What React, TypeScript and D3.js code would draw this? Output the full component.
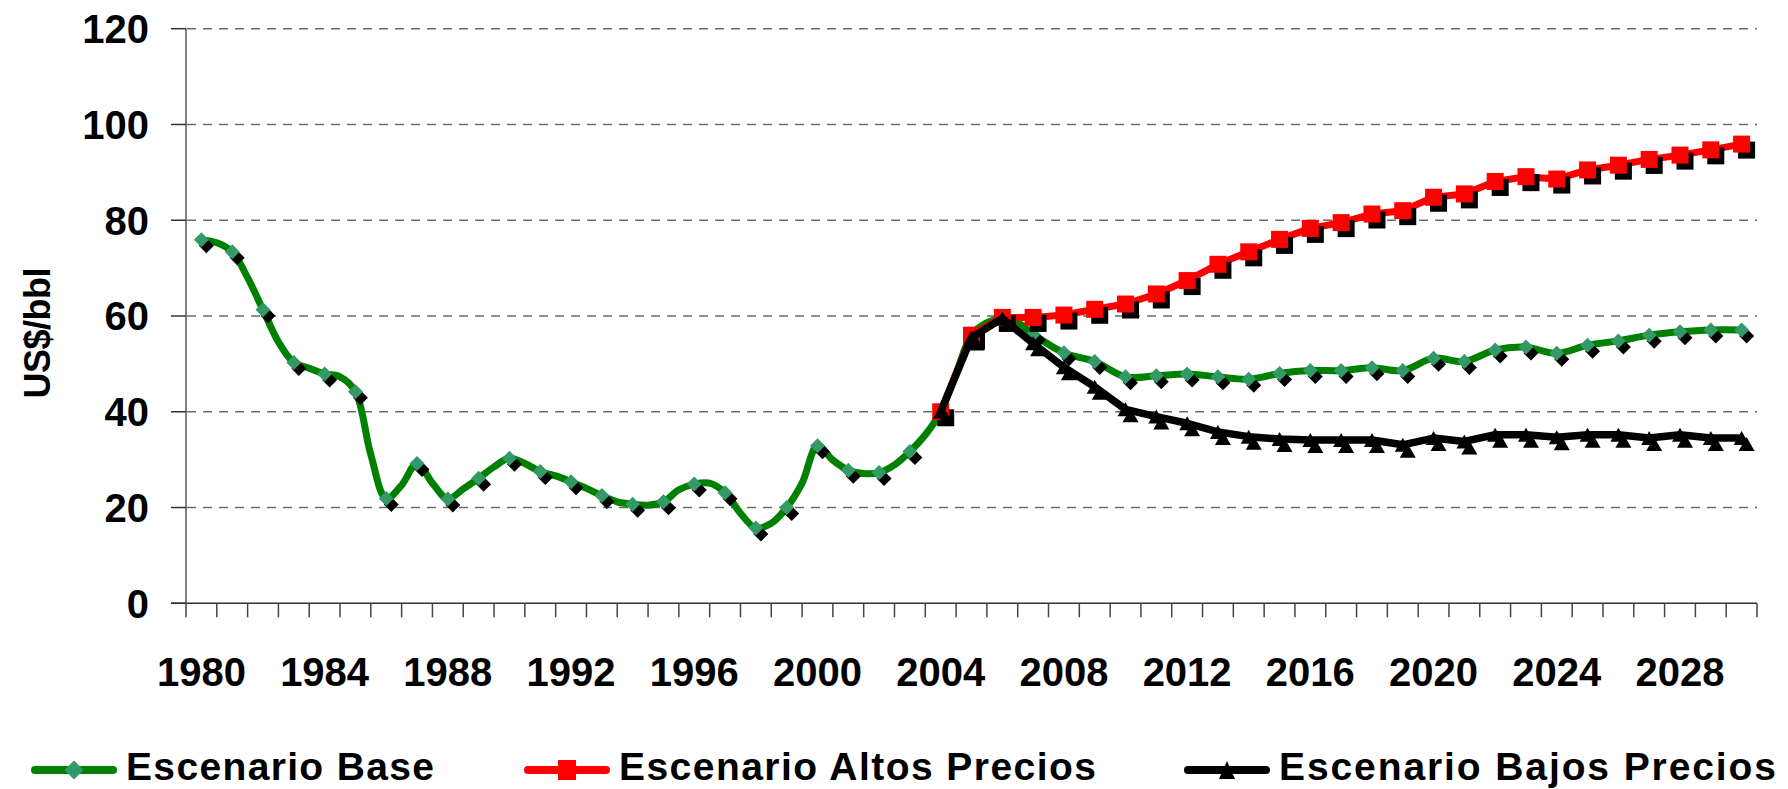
import React, { useEffect } from "react";
import * as d3 from "d3";

// ---------- data ----------
const years = [
  1980, 1981, 1982, 1983, 1984, 1985, 1986, 1987, 1988, 1989,
  1990, 1991, 1992, 1993, 1994, 1995, 1996, 1997, 1998, 1999,
  2000, 2001, 2002, 2003, 2004, 2005, 2006, 2007, 2008, 2009,
  2010, 2011, 2012, 2013, 2014, 2015, 2016, 2017, 2018, 2019,
  2020, 2021, 2022, 2023, 2024, 2025, 2026, 2027, 2028, 2029, 2030,
];

// Escenario Base (annual values, markers)
const baseValues = [
  75.9, 73.4, 61.3, 50.3, 47.9, 44.2, 21.9, 29.2, 21.8, 26.1,
  30.3, 27.5, 25.4, 22.5, 20.7, 21.2, 24.9, 23.1, 15.7, 20.0,
  32.9, 27.8, 27.3, 31.7, 40.0, 56.0, 59.5, 56.2, 52.3, 50.5,
  47.3, 47.5, 47.9, 47.3, 46.8, 48.0, 48.6, 48.6, 49.2, 48.6,
  51.2, 50.5, 52.9, 53.5, 52.2, 53.9, 54.8, 56.0, 56.7, 57.1, 57.1,
];

// Escenario Base mid-year values (line only, historical period)
const baseMidYears = [
  1980.5, 1981.5, 1982.5, 1983.5, 1984.5, 1985.5, 1986.5, 1987.5, 1988.5,
  1989.5, 1990.5, 1991.5, 1992.5, 1993.5, 1994.5, 1995.5, 1996.5, 1997.5,
  1998.5, 1999.5, 2000.5, 2001.5, 2002.5, 2003.5, 2004.5, 2005.5, 2006.5,
];
const baseMidValues = [
  75.3, 68.0, 54.6, 49.1, 47.3, 31.0, 24.7, 25.1, 23.9,
  28.5, 29.2, 26.6, 24.0, 21.2, 20.5, 23.7, 25.1, 18.8,
  16.7, 25.1, 29.9, 27.1, 28.9, 35.2, 48.0, 58.6, 58.6,
];

const scenarioYears = [
  2004, 2005, 2006, 2007, 2008, 2009, 2010, 2011, 2012, 2013,
  2014, 2015, 2016, 2017, 2018, 2019, 2020, 2021, 2022, 2023,
  2024, 2025, 2026, 2027, 2028, 2029, 2030,
];
// Escenario Altos Precios
const highValues = [
  40.0, 56.0, 59.7, 59.7, 60.2, 61.4, 62.5, 64.6, 67.4, 70.8,
  73.4, 76.0, 78.3, 79.5, 81.3, 82.0, 84.8, 85.5, 88.1, 89.1,
  88.6, 90.5, 91.5, 92.7, 93.6, 94.7, 95.9,
];
// Escenario Bajos Precios
const lowValues = [
  40.0, 55.5, 59.5, 54.3, 49.3, 45.2, 40.5, 39.0, 37.6, 35.8,
  34.8, 34.3, 34.1, 34.1, 34.1, 33.1, 34.5, 33.8, 35.2, 35.2,
  34.7, 35.2, 35.2, 34.5, 35.2, 34.5, 34.5,
];

const yTicks = [0, 20, 40, 60, 80, 100, 120];
const xTickLabels = [1980, 1984, 1988, 1992, 1996, 2000, 2004, 2008, 2012, 2016, 2020, 2024, 2028];

const legendItems = [
  { label: "Escenario Base", key: "base" },
  { label: "Escenario Altos Precios", key: "high" },
  { label: "Escenario Bajos Precios", key: "low" },
];

// ---------- layout ----------
const W = 1788;
const H = 789;
const FONT = "'Liberation Sans', Arial, Helvetica, sans-serif";
const GREEN = "#008000";
const DIAMOND = "#339966";
const RED = "#FF0000";
const BLACK = "#000000";
const SH_DX = 5;
const SH_DY = 6;

export default function App() {
  useEffect(() => {
    document.body.style.margin = "0";
  }, []);

  const x = d3.scaleLinear().domain([years[0] - 0.5, years[years.length - 1] + 0.5]).range([186, 1757]);
  const y = d3.scaleLinear().domain([0, 120]).range([603.3, 28.7]);

  const basePts: [number, number][] = [];
  years.forEach((yr, i) => basePts.push([yr, baseValues[i]]));
  baseMidYears.forEach((yr, i) => basePts.push([yr, baseMidValues[i]]));
  basePts.sort((a, b) => a[0] - b[0]);

  const smooth = d3
    .line<[number, number]>()
    .x((d) => x(d[0]))
    .y((d) => y(d[1]))
    .curve(d3.curveCatmullRom.alpha(0.5));
  const straight = d3
    .line<[number, number]>()
    .x((d) => x(d[0]))
    .y((d) => y(d[1]));

  const highPts: [number, number][] = scenarioYears.map((yr, i) => [yr, highValues[i]]);
  const lowPts: [number, number][] = scenarioYears.map((yr, i) => [yr, lowValues[i]]);
  const baseMarkers: [number, number][] = years.map((yr, i) => [yr, baseValues[i]]);

  const diamondPath = (cx: number, cy: number, r: number) =>
    `M${cx},${cy - r}L${cx + r},${cy}L${cx},${cy + r}L${cx - r},${cy}Z`;
  const trianglePath = (cx: number, cy: number, w: number, h: number) =>
    `M${cx},${cy - h / 2}L${cx + w / 2},${cy + h / 2}L${cx - w / 2},${cy + h / 2}Z`;

  const tickBoundaries = [...years.map((yr) => yr - 0.5), years[years.length - 1] + 0.5];

  const legendX = [31, 524, 1184];
  const legendTextLen = [308, 477, 497];
  const legendY = 770;

  return (
    <svg
      width={W}
      height={H}
      style={{ position: "absolute", left: 0, top: 0, background: "#fff" }}
      fontFamily={FONT}
    >
      <rect x={0} y={0} width={W} height={H} fill="#fff" />
      {/* grid */}
      {yTicks.filter((t) => t > 0).map((t) => (
        <line
          key={"g" + t}
          x1={187}
          x2={1757}
          y1={y(t)}
          y2={y(t)}
          stroke="#6a6a6a"
          strokeWidth={1.5}
          strokeDasharray="9,7"
        />
      ))}
      {/* y axis */}
      <line x1={186} x2={186} y1={y(120)} y2={y(0)} stroke="#808080" strokeWidth={2} />
      {yTicks.map((t) => (
        <g key={"yt" + t}>
          <line x1={171} x2={186} y1={y(t)} y2={y(t)} stroke="#333" strokeWidth={1.5} />
          <text
            x={149}
            y={y(t)}
            dy="0.36em"
            textAnchor="end"
            fontSize={40}
            fontWeight="bold"
            fill="#000"
          >
            {t}
          </text>
        </g>
      ))}
      {/* x axis */}
      <line x1={171} x2={1757} y1={y(0)} y2={y(0)} stroke="#333" strokeWidth={1.5} />
      {tickBoundaries.map((b, i) => (
        <line key={"xt" + i} x1={x(b)} x2={x(b)} y1={y(0)} y2={y(0) + 14} stroke="#444" strokeWidth={1.5} />
      ))}
      {xTickLabels.map((yr) => (
        <text
          key={"xl" + yr}
          x={x(yr)}
          y={686}
          textAnchor="middle"
          fontSize={40}
          fontWeight="bold"
          fill="#000"
        >
          {yr}
        </text>
      ))}
      {/* y axis title */}
      <text
        transform="translate(50,333) rotate(-90)"
        textAnchor="middle"
        fontSize={36}
        fontWeight="bold"
        fill="#000"
        textLength={131}
        lengthAdjust="spacing"
      >
        US$/bbl
      </text>

      {/* Base series */}
      <path d={smooth(basePts) || ""} fill="none" stroke={GREEN} strokeWidth={7} strokeLinejoin="round" />
      {baseMarkers.map((d, i) => (
        <path key={"bs" + i} d={diamondPath(x(d[0]) + SH_DX, y(d[1]) + SH_DY, 7.5)} fill={BLACK} />
      ))}
      {baseMarkers.map((d, i) => (
        <path key={"bm" + i} d={diamondPath(x(d[0]), y(d[1]), 7.5)} fill={DIAMOND} />
      ))}

      {/* High series */}
      <path d={straight(highPts) || ""} fill="none" stroke={RED} strokeWidth={7} strokeLinejoin="round" />
      {highPts.map((d, i) => (
        <rect key={"hs" + i} x={x(d[0]) - 8.5 + SH_DX} y={y(d[1]) - 8.5 + SH_DY} width={17} height={17} fill={BLACK} />
      ))}
      {highPts.map((d, i) => (
        <rect key={"hm" + i} x={x(d[0]) - 8.5} y={y(d[1]) - 8.5} width={17} height={17} fill={RED} />
      ))}

      {/* Low series */}
      <path d={straight(lowPts) || ""} fill="none" stroke={BLACK} strokeWidth={7.5} strokeLinejoin="round" />
      {lowPts.map((d, i) => (
        <path key={"ls" + i} d={trianglePath(x(d[0]) + SH_DX, y(d[1]) + SH_DY, 16, 14)} fill={BLACK} />
      ))}
      {lowPts.map((d, i) => (
        <path key={"lm" + i} d={trianglePath(x(d[0]), y(d[1]), 16, 14)} fill={BLACK} />
      ))}

      {/* legend */}
      {legendItems.map((it, i) => {
        const lx = legendX[i];
        const cx = lx + 43;
        const color = it.key === "base" ? GREEN : it.key === "high" ? RED : BLACK;
        return (
          <g key={it.key}>
            <line
              x1={lx + 4}
              x2={lx + 82}
              y1={legendY}
              y2={legendY}
              stroke={color}
              strokeWidth={8}
              strokeLinecap="round"
            />
            {it.key === "base" && <path d={diamondPath(cx, legendY, 9.5)} fill={DIAMOND} />}
            {it.key === "high" && <rect x={cx - 9} y={legendY - 10} width={18} height={20} fill={RED} />}
            {it.key === "low" && <path d={trianglePath(cx, legendY, 16, 18)} fill={BLACK} />}
            <text
              x={lx + 95}
              y={780}
              fontSize={39}
              fontWeight="bold"
              fill="#000"
              textLength={legendTextLen[i]}
              lengthAdjust="spacing"
            >
              {it.label}
            </text>
          </g>
        );
      })}
    </svg>
  );
}
